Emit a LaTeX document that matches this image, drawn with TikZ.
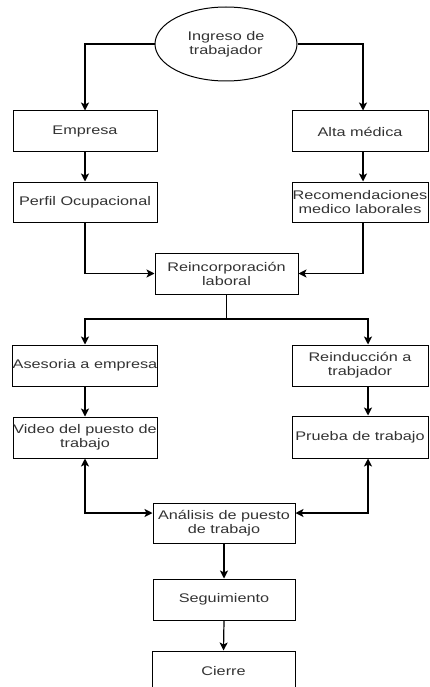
\documentclass[tikz,border=0pt]{standalone}
\usepackage{fontspec}
\setmainfont{Liberation Sans}[FakeStretch=1.3]
\usetikzlibrary{arrows.meta,shapes.geometric,calc}
\definecolor{txt}{HTML}{333333}
\begin{document}
\begin{tikzpicture}[x=1pt,y=-1pt,
  every node/.style={font=\fontsize{12.5}{14}\selectfont, text=txt, align=center, inner sep=0pt},
  box/.style={draw=black, line width=1pt, minimum height=41pt},
  arr/.style={draw=black, line width=1.2pt, -{Stealth[length=8pt,width=8pt,inset=2pt]}},
  darr/.style={draw=black, line width=1.2pt, {Stealth[length=8pt,width=8pt,inset=2pt]}-{Stealth[length=8pt,width=8pt,inset=2pt]}},
  ln/.style={draw=black, line width=1.2pt}]
\clip (0,0) rectangle (429,687);
\fill[white] (0,0) rectangle (429,687);
\node[ellipse, draw=black, line width=1pt, minimum width=142pt, minimum height=74pt] (ing) at (226,44) {Ingreso de\\trabajador};
\node[box, minimum width=144pt] (emp) at (85,131.5) {Empresa};
\node[box, minimum width=136pt] (alta) at (360,131.5) {Alta médica};
\node[box, minimum width=144pt, minimum height=40pt] (perf) at (85,202) {Perfil Ocupacional};
\node[box, minimum width=136pt, minimum height=40pt] (rec) at (360,202) {Recomendaciones\\medico laborales};
\node[box, minimum width=143pt] (reinc) at (226.5,273.5) {Reincorporación\\laboral};
\node[box, minimum width=144pt] (ases) at (85,365.5) {Asesoria a empresa};
\node[box, minimum width=136pt] (reind) at (360,365.5) {Reinducción a\\trabjador};
\node[box, minimum width=144pt] (video) at (85,437.5) {Video del puesto de\\trabajo};
\node[box, minimum width=136pt, minimum height=42pt] (prueba) at (360,437) {Prueba de trabajo};
\node[box, minimum width=142pt, minimum height=40pt] (anal) at (224,523) {Análisis de puesto\\de trabajo};
\node[box, minimum width=142pt] (seg) at (224,599.5) {Seguimiento};
\node[box, minimum width=143pt] (cierre) at (223.5,671.5) {Cierre};
\coordinate (split) at (226.5,319);
% connectors
\draw[arr] (ing.west) -| (emp.north);
\draw[arr] (ing.east) -| ([xshift=3pt]alta.north);
\draw[arr] (emp.south) -- (perf.north);
\draw[arr] ([xshift=3pt]alta.south) -- ([xshift=3pt]rec.north);
\draw[arr] (perf.south) |- (reinc.west);
\draw[arr] ([xshift=3pt]rec.south) |- (reinc.east);
\draw[ln] (reinc.south) -- (split);
\draw[arr] (split) -| (ases.north);
\draw[arr] (split) -| ([xshift=8pt]reind.north);
\draw[arr] (ases.south) -- (video.north);
\draw[arr] ([xshift=8pt]reind.south) -- ([xshift=8pt]prueba.north);
\draw[darr] (video.south) |- ([yshift=10pt]anal.west);
\draw[darr] ([xshift=8pt]prueba.south) |- ([yshift=10pt]anal.east);
\draw[arr] (anal.south) -- (seg.north);
\draw[arr] (seg.south) -- (cierre.north);
\end{tikzpicture}
\end{document}
